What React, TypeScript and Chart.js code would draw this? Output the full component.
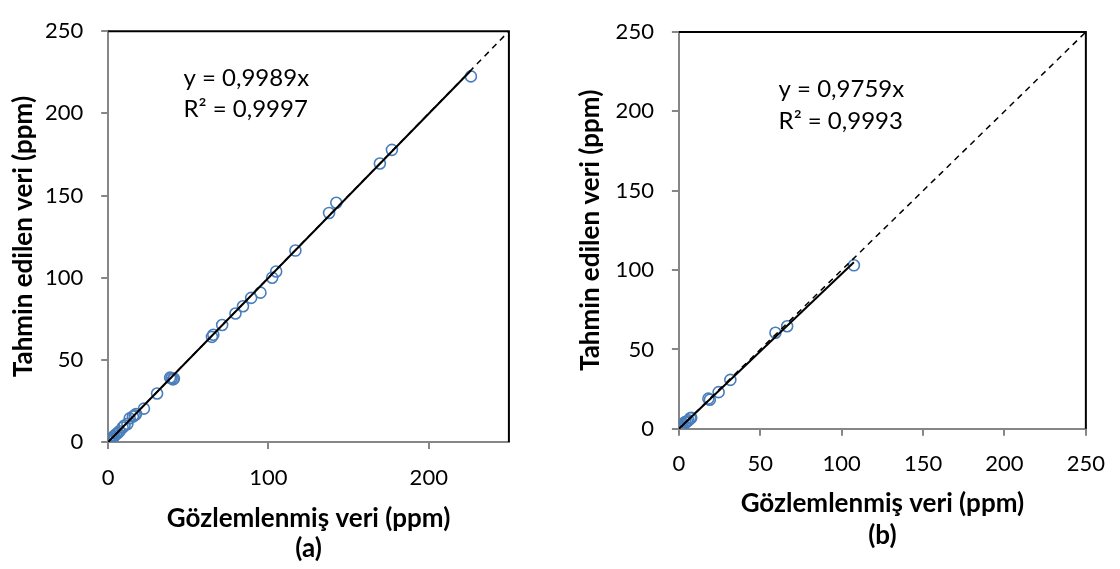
import React, { useEffect, useRef } from 'react';
import { Chart, registerables } from 'chart.js';

Chart.register(...registerables);

// ---------- data ----------
const observedA = [226.3, 177.0, 169.5, 142.3, 137.8, 116.8, 104.8, 102.3, 95.0, 89.2, 84.1, 79.4, 71.1, 65.6, 64.7, 40.4, 39.5, 38.6, 41.0, 30.5, 22.3, 17.4, 16.5, 15.4, 13.4, 12.0, 10.2, 9.0, 7.0, 6.0, 5.0, 4.0, 3.5, 3.0, 2.5, 2.0, 1.5, 1.0, 0.5];
const predictedA = [222.5, 177.8, 169.5, 145.6, 139.4, 116.5, 103.8, 100.0, 90.9, 87.7, 82.6, 78.2, 71.2, 65.3, 64.0, 38.1, 38.8, 39.2, 38.6, 29.5, 20.3, 17.0, 16.2, 15.5, 14.4, 11.0, 10.0, 8.8, 6.5, 5.5, 4.8, 4.0, 3.2, 3.0, 2.3, 2.0, 1.2, 1.0, 0.5];

const observedB = [107.5, 66.5, 59.3, 31.6, 24.4, 19.0, 18.1, 7.6, 7.0, 5.9, 5.0, 4.0, 3.7, 3.0, 2.0, 1.5, 1.0, 0.5];
const predictedB = [103.0, 64.6, 60.5, 30.8, 23.1, 18.3, 19.0, 7.0, 6.6, 5.3, 4.6, 4.2, 4.1, 2.5, 1.5, 1.1, 1.0, 0.3];

const slopeA = 0.9989;
const slopeB = 0.9759;
const equationA = ['y = 0,9989x', 'R² = 0,9997'];
const equationB = ['y = 0,9759x', 'R² = 0,9993'];

const xTicksA = [0, 100, 200];
const yTicksA = [0, 50, 100, 150, 200, 250];
const xTicksB = [0, 50, 100, 150, 200, 250];
const yTicksB = [0, 50, 100, 150, 200, 250];
const identityLine = [0, 250];

const xTitle = 'Gözlemlenmiş veri (ppm)';
const yTitle = 'Tahmin edilen veri (ppm)';
const panelLabels = ['(a)', '(b)'];

// ---------- layout ----------
const W = 560;
const H = 569;
const FONT = 'Lato';
const AXIS_GRAY = '#868686';
const POINT_BLUE = '#4a7ebb';

type Panel = {
  obs: number[];
  pred: number[];
  slope: number;
  eq: string[];
  xTicks: number[];
  yTicks: number[];
  label: string;
  offsetX: number;
  area: { left: number; right: number; top: number; bottom: number };
  xPad: number;
  yTitleX: number;
  xTitleY: number;
  labelY: number;
  eqX: number;
  eqY: number[];
};

const panels: Panel[] = [
  {
    obs: observedA, pred: predictedA, slope: slopeA, eq: equationA,
    xTicks: xTicksA, yTicks: yTicksA, label: panelLabels[0], offsetX: 0,
    area: { left: 108.2, right: 508.9, top: 14.5, bottom: 442 },
    xPad: 16, yTitleX: 23.2, xTitleY: 519, labelY: 549,
    eqX: 183.5, eqY: [86.2, 116.7],
  },
  {
    obs: observedB, pred: predictedB, slope: slopeB, eq: equationB,
    xTicks: xTicksB, yTicks: yTicksB, label: panelLabels[1], offsetX: 560,
    area: { left: 118.9, right: 528.6, top: 32, bottom: 428.8 },
    xPad: 15, yTitleX: 30.4, xTitleY: 503.6, labelY: 536,
    eqX: 218.6, eqY: [97, 129],
  },
];

function PanelChart({ p }: { p: Panel }) {
  const ref = useRef<HTMLCanvasElement | null>(null);
  useEffect(() => {
    if (!ref.current) return;
    const maxObs = Math.max(...p.obs);
    const points = p.obs.map((x, i) => ({ x, y: p.pred[i] }));
    const trend = [{ x: 0, y: 0 }, { x: maxObs, y: p.slope * maxObs }];
    const ident = identityLine.map((v) => ({ x: v, y: v }));

    const overlay = {
      id: 'overlay' + p.label,
      afterDraw(chart: any) {
        const ctx = chart.ctx as CanvasRenderingContext2D;
        const a = chart.chartArea;
        ctx.save();
        // top & right frame
        ctx.strokeStyle = '#000';
        ctx.lineWidth = 2;
        ctx.beginPath();
        ctx.moveTo(a.left, a.top);
        ctx.lineTo(a.right, a.top);
        ctx.lineTo(a.right, a.bottom);
        ctx.stroke();
        // titles
        ctx.fillStyle = '#000';
        ctx.font = `bold 26px ${FONT}`;
        ctx.textAlign = 'center';
        ctx.textBaseline = 'middle';
        const cx = (a.left + a.right) / 2;
        const cy = (a.top + a.bottom) / 2;
        ctx.fillText(xTitle, cx, p.xTitleY);
        ctx.fillText(p.label, cx, p.labelY);
        ctx.save();
        ctx.translate(p.yTitleX, cy);
        ctx.rotate(-Math.PI / 2);
        ctx.fillText(yTitle, 0, 0);
        ctx.restore();
        // equation
        ctx.font = `24px ${FONT}`;
        ctx.textAlign = 'left';
        ctx.textBaseline = 'alphabetic';
        p.eq.forEach((t, i) => ctx.fillText(t, p.eqX, p.eqY[i]));
        ctx.restore();
      },
    };

    const tickFont = { family: FONT, size: 22 };
    const chart = new Chart(ref.current, {
      type: 'scatter',
      data: {
        datasets: [
          {
            data: trend, showLine: true, borderColor: '#000', borderWidth: 2,
            pointRadius: 0, fill: false,
          },
          {
            data: ident, showLine: true, borderColor: '#000', borderWidth: 1.5,
            borderDash: [6, 5], pointRadius: 0, fill: false,
          },
          {
            data: points, showLine: false, pointStyle: 'circle', pointRadius: 5.5,
            borderWidth: 1.6, borderColor: POINT_BLUE, backgroundColor: 'rgba(0,0,0,0)',
          },
        ],
      },
      options: {
        responsive: false,
        maintainAspectRatio: false,
        animation: false,
        devicePixelRatio: 1,
        layout: {
          padding: { left: 0, top: p.area.top, right: W - p.area.right, bottom: 0 },
        },
        plugins: { legend: { display: false }, tooltip: { enabled: false } },
        scales: {
          x: {
            type: 'linear', min: 0, max: 250,
            afterBuildTicks: (s: any) => { s.ticks = p.xTicks.map((v) => ({ value: v })); },
            afterFit: (s: any) => { s.height = H - p.area.bottom; },
            grid: { display: true, drawOnChartArea: false, drawTicks: true, tickLength: 7, color: AXIS_GRAY, lineWidth: 2 },
            border: { display: true, color: AXIS_GRAY, width: 2 },
            ticks: { font: tickFont, color: '#000', padding: p.xPad, maxRotation: 0, autoSkip: false },
          },
          y: {
            type: 'linear', min: 0, max: 250,
            afterBuildTicks: (s: any) => { s.ticks = p.yTicks.map((v) => ({ value: v })); },
            afterFit: (s: any) => { s.width = p.area.left; },
            grid: { display: true, drawOnChartArea: false, drawTicks: true, tickLength: 7, color: AXIS_GRAY, lineWidth: 2 },
            border: { display: true, color: AXIS_GRAY, width: 2 },
            ticks: { font: tickFont, color: '#000', padding: 18, autoSkip: false },
          },
        },
      },
      plugins: [overlay],
    } as any);
    return () => chart.destroy();
  }, [p]);

  return (
    <canvas
      ref={ref}
      width={W}
      height={H}
      style={{ position: 'absolute', left: p.offsetX, top: 0, width: W, height: H }}
    />
  );
}

export default function App() {
  return (
    <div style={{ position: 'absolute', left: 0, top: 0, width: 1120, height: 569, background: '#fff' }}>
      {panels.map((p) => (
        <PanelChart key={p.label} p={p} />
      ))}
    </div>
  );
}
